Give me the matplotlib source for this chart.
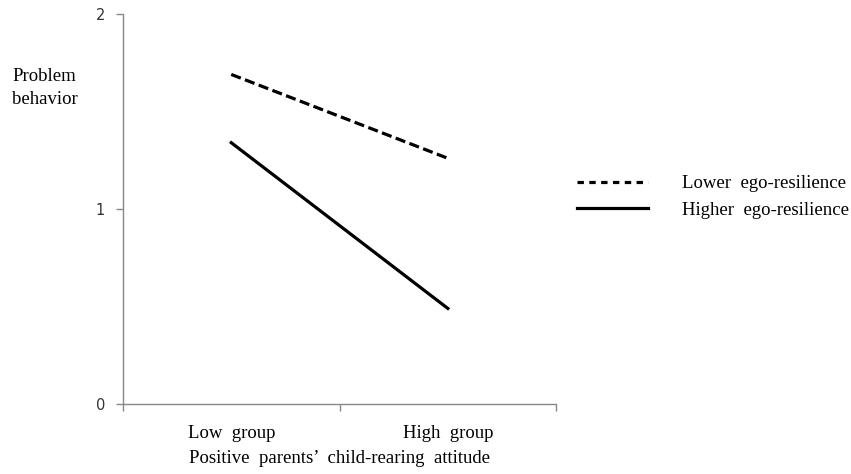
import matplotlib.pyplot as plt
from matplotlib.lines import Line2D

groups = ['Low  group', 'High  group']
lower_resilience = [1.69, 1.26]
higher_resilience = [1.34, 0.49]
y_ticks = [0, 1, 2]
series_names = ['Lower  ego-resilience', 'Higher  ego-resilience']

plt.rcParams['font.family'] = ['Liberation Serif', 'DejaVu Serif']
fs = 13.5

fig = plt.figure(figsize=(8.51, 4.74), dpi=100)
ax = fig.add_axes([0.1445, 0.1477, 0.509, 0.8228])

xpos = [0.5, 1.5]
ax.plot(xpos, lower_resilience, color='black', lw=2.3, linestyle=(0, (3.2, 1.4)))
ax.plot(xpos, higher_resilience, color='black', lw=2.3)

ax.set_xlim(0, 2)
ax.set_ylim(0, 2)
ax.set_yticks(y_ticks)
ax.set_yticklabels([str(t) for t in y_ticks], fontfamily='DejaVu Sans', fontsize=10.5, color='#333333')
ax.set_xticks([0, 1, 2])
ax.set_xticklabels([])
ax.set_xticks(xpos, minor=True)
ax.set_xticklabels(groups, minor=True, fontsize=fs)
ax.tick_params(axis='x', which='minor', length=0, pad=15)
ax.tick_params(axis='both', which='major', color='#888888', length=5, width=1)
ax.tick_params(axis='y', pad=8)

for s in ['top', 'right']:
    ax.spines[s].set_visible(False)
for s in ['left', 'bottom']:
    ax.spines[s].set_color('#888888')
    ax.spines[s].set_linewidth(1)

ax.set_xlabel("Positive  parents\u2019  child-rearing  attitude", fontsize=fs, labelpad=6)
fig.text(12 / 851, 1 - 88 / 474, 'Problem\nbehavior', fontsize=fs, ha='left', va='center', linespacing=1.4)

handles = [
    Line2D([], [], color='black', lw=2.3, linestyle=(0, (2, 1.7))),
    Line2D([], [], color='black', lw=2.3),
]
fig.legend(handles, series_names,
           loc='center left', bbox_to_anchor=(0.678, 1 - 197 / 474),
           frameon=False, fontsize=fs, handlelength=3.8, handletextpad=1.8,
           labelspacing=0.5, borderpad=0, borderaxespad=0)

fig.savefig('out.png', dpi=100)
